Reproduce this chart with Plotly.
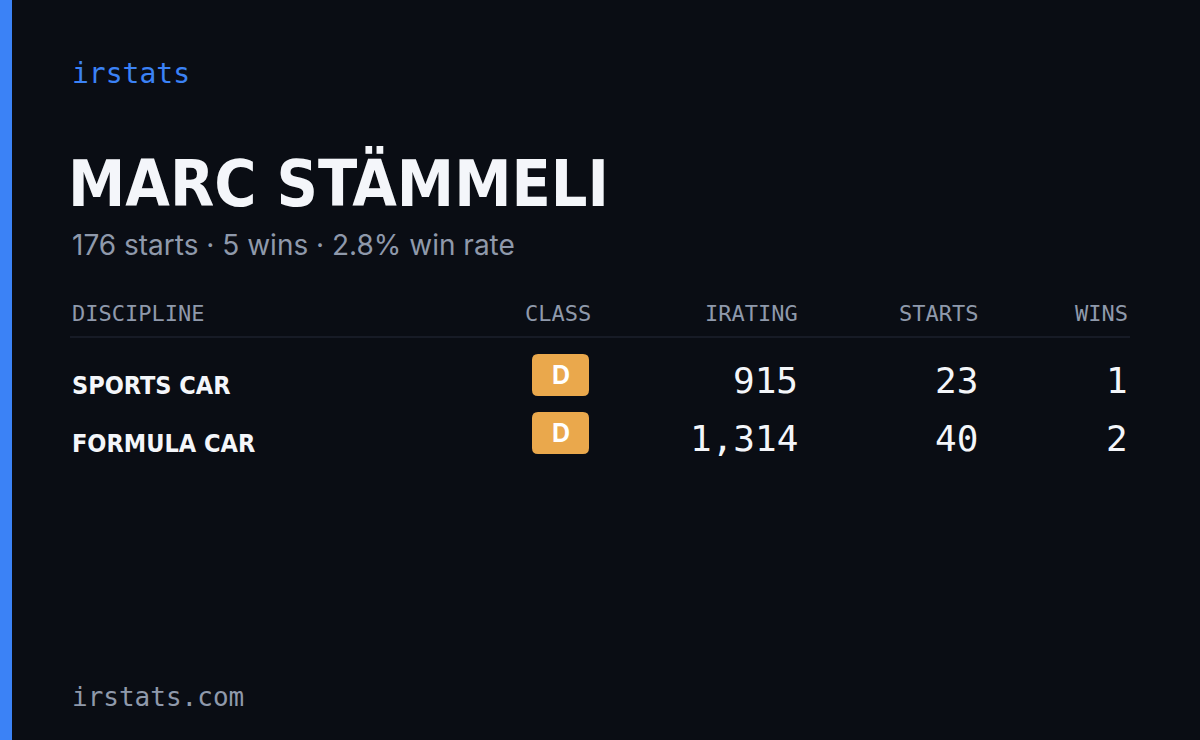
import plotly.graph_objects as go

W, H = 1200, 740
BG = "#0a0d14"
MUTED = "#8f99ab"

driver_name = "MARC STÄMMELI"
summary = "176 starts · 5 wins · 2.8% win rate"
headers = ["DISCIPLINE", "CLASS", "IRATING", "STARTS", "WINS"]
disciplines = ["SPORTS CAR", "FORMULA CAR"]
classes = ["D", "D"]
iratings = [915, 1314]
starts = [23, 40]
wins = [1, 2]

MONO = "DejaVu Sans Mono"
COND = "DejaVu Sans Condensed, DejaVu Sans, sans-serif"

fig = go.Figure()
ann = []
shapes = []

def text(x, y, s, size, color, family, anchor="left", bold=False):
    ann.append(dict(x=x, y=y, text=f"<b>{s}</b>" if bold else s, showarrow=False,
                    xanchor=anchor, yanchor="middle",
                    font=dict(size=size, color=color, family=family)))

# left accent bar
shapes.append(dict(type="rect", x0=0, x1=12, y0=0, y1=H, fillcolor="#3b82f6", line_width=0))

text(70, 73, "irstats", 28, "#3b82f6", MONO)
text(66, 183, driver_name, 64, "#f4f6fa", COND, bold=True)
text(70, 245, summary, 28, MUTED, "Inter")

col_x = [70, 593, 800, 980, 1130]
col_anchor = ["left", "right", "right", "right", "right"]
for h, x, a in zip(headers, col_x, col_anchor):
    text(x, 313, h, 22, MUTED, MONO, a)
shapes.append(dict(type="line", x0=70, x1=1130, y0=337, y1=337,
                   line=dict(color="#1c212c", width=1.5)))

def rounded(x0, y0, x1, y1, r):
    return (f"M{x0+r},{y0} L{x1-r},{y0} Q{x1},{y0} {x1},{y0+r} L{x1},{y1-r} "
            f"Q{x1},{y1} {x1-r},{y1} L{x0+r},{y1} Q{x0},{y1} {x0},{y1-r} "
            f"L{x0},{y0+r} Q{x0},{y0} {x0+r},{y0} Z")

for i, d in enumerate(disciplines):
    y = 380 + i * 58
    text(70, y + 5, d, 25, "#f4f6fa", COND, bold=True)
    shapes.append(dict(type="path", path=rounded(532, y - 26, 589, y + 16, 6),
                       fillcolor="#eaa84c", line_width=0))
    text(560.5, y - 5, classes[i], 25, "#ffffff", "Inter", "center", bold=True)
    text(800, y, f"{iratings[i]:,}", 36, "#f4f6fa", MONO, "right")
    text(980, y, str(starts[i]), 36, "#f4f6fa", MONO, "right")
    text(1130, y, str(wins[i]), 36, "#f4f6fa", MONO, "right")

text(70, 697, "irstats.com", 26, MUTED, MONO)

fig.update_layout(width=W, height=H, margin=dict(l=0, r=0, t=0, b=0),
                  paper_bgcolor=BG, plot_bgcolor=BG, annotations=ann, shapes=shapes,
                  xaxis=dict(range=[0, W], visible=False, fixedrange=True),
                  yaxis=dict(range=[H, 0], visible=False, fixedrange=True),
                  showlegend=False)
fig.write_html("out.html", config={"displayModeBar": False},
               post_script="document.body.style.margin='0';document.body.style.background='#0a0d14';")
